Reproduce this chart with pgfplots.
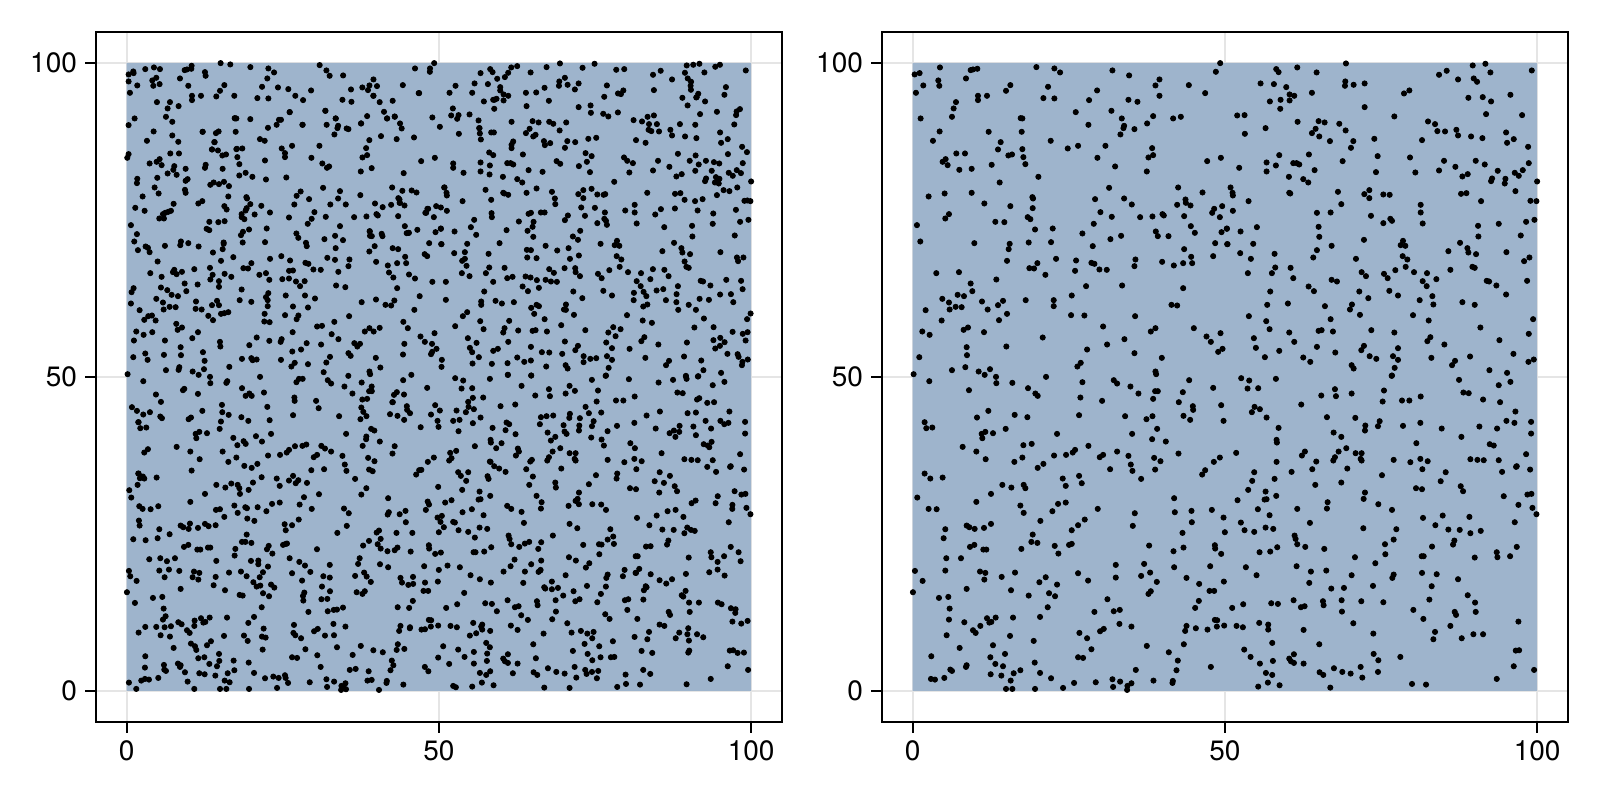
\documentclass[border=0pt]{standalone}
\usepackage{pgfplots}
\usepackage{pgfplotstable}
\pgfplotsset{compat=1.18}
\usepackage{fontspec}
\setmainfont{TeX Gyre Heros}
\definecolor{regionblue}{RGB}{158,180,204}
% Points are positions read from 3x zoom crops of the reference, one table per crop.
% Each crop has one linear calibration to data units, fixed from the 0 and 100 gridlines.
% Tables E-H: points in both panels. Tables A-D: points in the left panel only.
\pgfplotstableread{
px py
134 164
149 160
210 143
302 151
309 149
322 147
499 142
553 146
570 158
727 152
777 167
1037 156
1050 130
205 182
288 176
868 179
856 197
956 196
138 219
160 197
208 198
421 196
408 213
534 201
681 212
1005 220
324 228
324 241
351 228
520 235
553 236
657 241
775 240
802 246
868 228
258 247
251 266
246 291
152 296
452 295
457 296
617 277
724 273
755 296
849 289
909 296
932 291
209 335
356 336
455 336
655 315
762 318
760 325
793 328
831 311
751 344
189 363
392 367
542 363
384 389
457 388
593 386
624 378
706 378
846 385
259 401
285 401
415 407
426 404
460 412
682 414
835 413
849 406
1011 424
1052 414
227 418
218 426
233 436
268 450
305 447
365 435
466 433
735 440
830 455
505 471
389 488
717 504
924 503
176 530
224 521
305 519
487 532
489 536
675 538
762 536
997 518
946 539
947 549
921 555
961 557
785 554
343 551
421 559
488 565
1056 559
1032 567
1026 579
237 583
226 596
473 592
481 598
691 577
725 591
810 592
847 590
877 583
881 587
942 589
1049 592
141 616
376 606
403 607
495 629
548 626
671 612
962 619
637 641
857 635
974 639
1054 637
1070 627
151 665
313 670
419 672
476 668
543 667
721 658
753 648
863 649
895 649
1035 670
1072 673
416 688
668 679
942 688
411 723
558 717
618 722
664 729
673 732
796 719
793 739
876 726
911 737
939 730
963 711
966 730
1029 709
502 730
199 760
267 757
478 745
492 746
615 753
688 749
710 750
526 765
379 779
302 791
307 814
648 799
756 797
939 805
263 825
282 829
217 837
237 848
336 845
399 843
467 841
551 841
605 827
384 856
551 859
904 855
921 857
257 861
275 862
239 869
167 871
353 869
411 882
603 886
643 887
795 889
215 902
387 901
294 923
281 930
157 935
179 945
342 937
699 920
856 925
842 935
971 925
1009 950
1051 940
518 953
763 958
1022 966
290 982
409 980
711 974
291 1006
651 989
793 1000
1044 996
1057 987
148 1012
875 1014
632 1029
622 1040
286 1042
246 1051
326 1055
360 1048
344 1065
856 1055
858 1063
131 1063
}\cropE
\pgfplotstableread{
px py
168 148
175 157
231 143
289 158
377 131
757 137
795 132
810 158
934 152
656 165
679 153
713 179
760 176
770 186
121 191
161 193
198 202
375 185
374 198
400 195
433 191
275 219
208 224
222 228
551 221
567 212
870 225
149 245
181 240
208 242
180 267
433 262
744 234
787 232
812 245
51 287
73 286
232 306
295 304
313 308
357 312
376 332
522 290
623 305
644 313
797 283
905 286
136 325
74 342
286 327
275 340
297 350
329 364
399 364
462 357
651 334
674 335
708 330
713 347
752 350
786 355
857 338
880 358
860 369
605 361
392 384
923 381
177 406
266 404
472 409
569 413
139 428
167 437
219 430
229 430
237 434
367 424
671 423
705 441
766 423
793 434
925 430
57 444
139 455
283 451
467 457
585 458
656 452
832 453
883 459
907 451
895 468
206 471
249 478
264 488
726 470
742 463
812 484
815 476
855 477
853 491
950 485
31 503
37 519
38 527
207 519
210 521
353 516
432 523
447 511
447 535
489 524
508 525
722 522
738 520
885 514
85 544
363 553
601 555
782 544
930 543
948 544
38 573
290 579
331 578
601 578
452 588
917 606
942 600
489 610
510 597
515 603
607 611
773 618
835 612
295 621
110 622
20 626
61 635
431 660
297 651
774 650
901 647
21 673
99 672
334 678
548 663
541 676
555 678
719 669
741 685
744 698
767 703
858 697
684 694
290 691
60 700
163 702
279 713
92 717
407 717
547 709
561 719
927 713
911 724
165 743
211 744
556 741
756 741
763 744
690 750
83 760
155 760
424 757
437 769
525 751
581 757
620 760
491 762
502 775
219 775
334 780
350 785
648 778
607 784
799 783
806 785
920 783
265 800
281 814
150 815
417 815
507 813
619 799
828 797
533 827
636 829
857 824
444 835
598 841
726 847
141 855
203 851
314 859
395 854
389 869
639 854
763 855
86 889
419 885
578 886
138 904
331 898
625 902
938 898
148 928
207 938
295 933
304 931
338 935
453 931
522 938
780 923
925 942
630 952
621 964
101 955
222 966
672 974
837 961
107 984
177 993
290 981
431 978
423 991
533 985
345 998
879 1002
134 1012
249 1013
270 1026
448 1009
468 1017
518 1009
533 1020
633 1014
749 1010
924 1026
940 1019
704 1023
695 1036
394 1036
400 1046
523 1044
807 1051
860 1059
515 1067
}\cropF
\pgfplotstableread{
px py
178 34
297 61
378 21
379 40
427 39
474 55
528 21
496 71
503 78
637 37
631 83
731 31
741 41
781 50
805 71
696 93
855 64
863 64
849 87
938 67
957 31
1029 54
926 97
968 109
969 120
1053 106
355 123
321 143
434 135
472 142
627 136
765 139
829 148
847 139
940 138
960 150
1060 153
164 157
169 175
187 173
407 177
861 177
335 192
346 186
337 205
369 190
561 192
786 192
846 208
887 215
278 231
460 226
485 222
655 228
319 245
615 240
608 248
741 245
925 251
552 257
588 255
699 255
689 262
775 258
852 264
457 263
347 268
1049 263
433 276
871 274
1031 276
520 282
782 284
503 294
720 298
787 303
855 299
1005 301
996 314
164 311
181 326
218 323
578 326
627 318
635 340
813 327
397 345
424 353
461 345
466 355
587 348
363 372
142 383
912 385
319 396
587 398
564 402
451 407
176 417
200 418
683 417
547 424
461 429
794 430
914 427
964 423
1025 420
1060 443
511 453
644 449
965 457
363 462
290 467
298 472
314 477
342 474
226 478
624 466
605 481
788 468
1064 487
937 489
221 505
488 494
484 516
502 519
300 531
313 525
554 528
597 525
605 522
837 527
940 533
1034 526
1035 536
340 539
349 539
454 537
910 544
565 551
1053 552
229 565
273 565
135 603
226 602
330 605
346 609
435 608
624 610
737 585
822 582
912 592
1020 589
840 608
813 618
395 621
527 622
737 623
949 624
158 633
343 629
508 637
654 632
860 636
1061 635
561 644
987 642
129 667
290 657
423 661
476 677
537 670
555 679
842 664
835 672
1018 663
1032 663
207 684
235 681
712 688
986 693
239 716
533 712
673 726
731 724
749 720
975 714
237 749
283 757
351 745
377 743
429 743
358 758
364 756
510 741
1034 750
1041 751
748 762
331 768
784 770
949 768
977 775
1062 767
1040 770
1012 779
309 781
317 789
690 784
701 777
628 789
945 783
230 796
420 798
651 805
491 813
269 834
369 826
830 828
941 823
664 838
184 859
361 862
405 852
624 862
639 864
896 847
923 872
1022 891
376 882
399 889
290 886
288 891
494 878
241 899
246 903
451 901
797 900
919 901
362 913
394 917
431 910
510 909
183 927
195 929
223 924
543 925
422 932
612 939
677 937
727 928
750 935
850 932
908 933
907 939
784 940
772 948
408 957
427 957
495 957
579 954
729 951
771 960
}\cropG
\pgfplotstableread{
px py
63 25
87 32
167 27
514 18
716 30
870 36
835 46
82 56
114 55
344 58
303 77
347 79
394 71
491 62
729 68
745 70
601 80
545 92
567 92
487 95
788 89
839 97
243 104
103 111
119 118
95 127
885 125
139 143
320 142
405 144
478 154
473 169
600 159
858 153
882 159
932 156
175 174
435 167
434 182
548 168
664 176
777 170
830 176
340 188
932 191
363 201
723 201
169 210
170 218
588 220
808 223
820 227
378 235
254 245
245 257
355 245
48 249
406 250
424 250
917 253
344 262
339 272
421 267
424 272
520 270
600 267
622 274
570 277
750 268
771 270
790 271
835 271
169 276
288 275
276 298
381 296
606 298
889 289
887 291
929 299
845 306
102 307
214 306
676 307
485 316
163 327
96 333
661 334
363 338
285 345
721 349
587 355
605 358
84 360
136 365
728 364
434 368
921 374
933 372
168 378
850 379
430 387
52 391
133 389
139 388
322 397
474 403
894 405
320 416
231 417
113 418
515 420
936 414
948 433
148 436
667 437
608 444
747 441
62 458
269 459
883 457
645 466
429 475
136 473
159 477
73 481
102 486
684 479
718 480
528 478
781 483
750 490
223 497
226 507
231 523
255 531
312 537
494 523
520 509
702 512
698 524
635 530
171 532
150 545
118 547
829 547
831 562
889 531
495 553
404 562
604 559
610 559
763 563
869 559
465 580
77 592
229 589
272 605
318 602
605 609
649 613
109 616
394 616
520 614
516 624
713 628
267 639
458 648
634 649
333 656
371 654
742 676
627 689
220 691
308 694
310 706
364 691
423 694
489 697
764 698
69 703
153 700
173 702
36 714
242 712
253 709
365 725
579 720
766 726
703 726
707 735
609 747
117 759
399 760
894 755
49 768
68 772
144 764
144 779
250 780
690 768
644 786
459 791
759 793
788 793
724 805
639 808
156 819
297 823
72 839
460 852
221 853
886 842
896 841
91 861
540 861
207 866
212 874
221 879
158 873
119 881
250 881
474 871
341 895
421 891
880 889
941 900
298 907
309 915
366 906
391 911
473 906
137 909
156 915
426 923
829 927
114 950
143 938
178 946
575 942
617 944
330 953
}\cropH
\pgfplotstableread{
px py
422 130
451 134
719 136
1005 146
1050 146
196 148
240 148
335 138
160 155
375 157
377 168
749 168
229 174
146 185
239 193
325 198
562 176
594 203
625 208
813 209
847 203
864 211
891 199
409 230
463 228
646 228
1016 220
231 247
296 259
880 228
899 247
938 243
277 306
146 316
465 296
511 298
564 324
590 315
597 300
603 300
629 277
668 315
736 273
740 315
767 296
800 326
843 311
912 276
921 296
944 290
960 311
965 326
1057 293
368 336
408 340
416 335
277 347
295 366
403 367
540 358
868 361
903 349
950 358
1002 353
396 389
414 392
471 387
487 386
146 403
142 414
555 422
615 400
615 412
209 431
283 439
375 444
428 447
727 431
741 444
875 445
263 461
290 465
232 474
172 477
171 490
317 483
323 478
478 467
497 459
558 479
619 473
971 460
391 495
417 493
432 486
447 499
224 503
315 510
445 530
650 528
662 515
780 514
841 526
967 513
995 512
959 549
955 535
367 544
281 552
166 564
194 573
273 573
265 576
256 579
252 596
440 569
511 553
544 558
497 572
485 583
524 584
570 578
643 554
627 593
751 554
885 551
908 562
1042 567
1036 579
434 604
380 627
388 631
695 597
780 619
869 634
870 648
905 642
986 639
980 640
1012 630
171 643
489 636
483 646
655 654
789 661
431 668
303 665
301 676
356 680
255 678
197 680
204 684
174 691
209 697
678 669
767 685
884 679
938 685
868 695
1034 703
399 698
604 709
460 712
742 714
765 720
233 725
343 748
390 744
283 750
290 763
306 756
245 771
398 765
434 762
454 771
417 784
558 760
639 752
775 756
927 758
940 773
987 764
1005 776
568 780
607 778
627 776
648 785
674 784
353 794
417 801
1057 786
243 803
161 805
155 817
262 811
485 809
796 802
565 820
558 832
153 851
417 856
514 846
639 860
675 827
705 836
845 847
888 839
943 842
1019 829
347 867
433 880
445 877
554 882
684 863
1003 870
205 889
216 887
193 900
385 888
553 905
569 907
650 898
763 906
970 906
289 912
217 937
726 918
881 935
899 924
638 937
755 943
162 962
255 962
337 955
568 963
605 958
602 966
420 966
508 976
680 970
823 970
840 972
832 980
973 972
1056 972
637 995
369 997
196 1001
252 1005
969 1004
1053 1003
750 1011
812 1008
203 1020
374 1023
486 1017
514 1015
518 1021
530 1019
603 1020
739 1028
684 1033
296 1050
448 1041
901 1043
731 1057
805 1068
994 1065
}\cropA
\pgfplotstableread{
px py
152 160
262 139
350 142
458 144
494 132
559 150
583 148
790 135
856 141
870 135
765 159
77 198
59 219
127 219
202 177
225 172
235 159
211 212
319 218
344 204
405 174
435 209
531 197
523 231
573 223
672 211
782 198
783 210
888 202
805 222
799 233
190 240
200 237
357 243
290 259
482 257
483 279
520 282
564 278
773 257
861 276
920 275
930 268
69 266
82 297
119 284
146 302
148 325
30 321
150 341
153 359
184 338
192 338
358 306
409 308
317 345
345 376
361 370
436 367
499 354
611 301
653 291
672 287
681 313
656 330
750 313
796 315
913 314
647 369
250 365
245 375
245 385
178 398
467 400
391 432
447 439
471 426
592 423
609 430
744 402
797 407
828 423
852 427
868 431
894 403
951 397
70 431
101 459
179 464
338 456
796 453
933 460
858 472
855 488
553 486
43 503
167 510
235 525
290 519
320 506
485 507
526 523
652 519
881 511
922 503
861 526
184 540
375 536
764 540
818 538
952 542
33 563
185 580
186 592
296 582
333 578
414 587
405 601
454 563
495 564
525 578
586 572
693 568
676 584
735 566
803 572
850 581
918 570
133 600
267 605
311 606
293 633
531 615
703 622
230 631
451 633
429 650
139 645
512 672
209 670
291 690
105 697
97 723
382 692
416 685
447 707
320 715
110 738
764 725
921 713
119 769
248 771
287 770
302 773
321 781
381 786
358 748
372 759
404 745
436 745
669 748
716 769
889 780
48 786
190 786
327 804
744 799
680 812
700 808
612 819
641 816
740 823
903 823
938 808
48 840
154 845
197 843
252 847
304 864
320 855
313 882
408 870
708 841
809 837
837 840
910 847
640 860
745 870
798 870
112 877
962 881
238 903
666 909
822 896
76 919
224 925
265 932
394 916
550 922
572 928
557 949
851 922
908 936
953 937
140 969
127 997
204 987
405 965
529 968
771 968
599 987
871 954
884 967
947 962
870 978
856 986
336 997
397 1002
36 1020
35 1041
128 1031
186 1032
233 1030
303 1022
349 1040
461 1027
499 1015
814 1022
923 1003
926 1011
936 1036
234 1065
304 1067
768 1068
804 1070
}\cropB
\pgfplotstableread{
px py
313 57
228 74
243 96
354 72
442 34
497 78
552 68
657 27
668 27
644 93
716 115
845 38
875 50
847 89
942 75
937 97
972 74
156 112
171 123
190 134
210 127
241 140
246 145
326 148
426 105
427 127
505 153
562 111
569 151
844 113
850 126
930 133
990 130
1053 134
175 157
423 155
883 182
859 200
1022 172
460 204
528 199
491 214
546 215
645 229
679 224
724 228
735 236
848 228
944 229
193 248
204 238
428 245
493 288
694 301
335 302
878 304
1024 300
175 311
189 320
180 325
173 345
148 361
545 322
519 338
506 360
454 341
627 332
655 331
681 339
480 372
672 382
717 373
844 374
859 355
178 409
235 409
408 420
420 418
496 412
501 415
533 412
659 404
792 416
923 434
959 433
1043 395
1047 404
433 441
502 446
177 452
179 467
330 461
386 469
407 466
614 463
772 489
890 488
897 482
997 489
160 508
197 511
269 493
486 516
867 513
902 507
893 523
902 536
621 521
384 533
391 533
561 538
464 557
711 538
944 541
992 545
208 568
261 574
409 573
513 573
535 572
535 583
564 590
629 565
658 576
675 587
839 565
900 583
267 599
298 603
483 605
549 607
691 606
151 619
254 622
338 622
500 619
730 619
860 620
999 621
1035 638
966 638
985 645
530 650
541 647
583 653
401 646
726 650
479 675
673 668
669 678
750 664
830 667
670 692
742 687
165 699
771 719
789 713
953 712
257 739
344 752
305 763
505 759
642 765
196 771
229 771
254 772
273 769
551 776
990 772
1035 778
176 788
270 800
492 797
546 800
557 803
646 796
735 797
762 796
393 814
333 821
345 829
349 840
771 832
548 839
950 840
973 837
355 865
712 856
818 855
880 841
461 872
418 873
195 893
252 885
294 881
722 891
827 897
940 886
1045 904
147 938
184 932
315 907
323 935
358 910
449 937
580 920
596 924
615 916
617 924
866 904
875 930
970 944
169 957
343 957
798 958
897 960
790 952
}\cropC
\pgfplotstableread{
px py
234 15
304 17
486 30
597 28
686 38
768 20
770 27
805 19
275 48
419 48
435 63
129 84
160 83
115 96
30 122
212 109
467 111
477 130
514 128
80 122
832 99
808 85
650 137
690 125
773 130
798 128
70 153
89 150
129 160
26 171
230 158
238 163
227 181
257 193
350 139
370 137
330 163
401 166
404 185
410 192
420 132
450 145
533 184
719 190
732 182
749 168
748 186
798 196
827 153
883 163
86 184
215 220
199 235
135 229
264 236
79 243
65 265
58 272
306 270
363 212
484 203
515 209
522 227
615 235
695 250
838 232
845 216
180 275
193 289
208 296
832 291
85 307
93 318
173 319
309 320
25 351
378 353
477 343
562 311
560 326
702 339
720 318
688 368
914 364
320 378
437 393
46 398
785 400
797 392
857 400
232 408
275 426
416 408
447 403
514 404
98 427
713 424
737 420
907 417
36 438
32 456
70 456
42 472
419 462
772 473
783 480
135 503
369 497
285 521
298 516
334 517
460 525
515 524
550 500
552 522
662 529
33 548
137 547
926 547
254 569
304 583
334 572
438 572
468 593
53 587
27 600
221 605
326 606
332 600
863 576
932 574
838 607
863 599
884 617
584 600
579 619
628 597
617 609
768 612
689 631
150 628
183 638
103 669
366 635
343 652
366 658
431 664
528 650
513 672
650 652
642 661
709 641
767 663
760 680
400 677
449 688
585 691
595 688
807 698
864 698
875 703
201 724
903 715
917 718
916 729
274 736
294 750
367 748
526 733
539 747
154 770
181 783
243 767
689 764
934 761
953 753
748 788
775 775
777 812
820 802
139 790
120 797
341 791
425 788
453 783
491 786
487 805
614 801
40 829
180 832
132 846
172 851
25 863
58 882
318 865
429 843
464 822
508 829
549 814
512 862
543 862
635 843
667 849
778 842
775 848
923 849
942 848
249 910
181 904
466 900
470 912
505 903
501 925
587 914
640 900
661 912
70 948
78 952
419 954
562 951
770 943
}\cropD
\pgfplotsset{panel/.style={
  anchor=south west, scale only axis, width=342.85pt, height=344.85pt,
  xmin=-4.9, xmax=104.9, ymin=-4.9, ymax=104.9,
  xtick={0,50,100}, ytick={0,50,100}, tick pos=left, tick align=outside,
  major tick length=5.5pt, tick style={black, line width=1pt},
  axis line style={black, line width=1pt},
  grid=major, grid style={black!10, line width=1pt},
  tick label style={font=\fontsize{14}{16}\selectfont},
  /pgf/number format/assume math mode=true,
  xticklabel style={yshift=-0.5pt}, yticklabel style={xshift=-0.5pt},
}, dots/.style={only marks, mark=*, mark size=1.3pt, mark options={black, draw=none, fill=black}}}
\newcommand{\sharedpoints}{%
\addplot[dots] table[x expr=(\thisrow{px}-128)/18.72, y expr=100-(\thisrow{py}-129)/18.84] {\cropE};
\addplot[dots] table[x expr=50+(\thisrow{px}-14)/18.72, y expr=100-(\thisrow{py}-129)/18.84] {\cropF};
\addplot[dots] table[x expr=(\thisrow{px}-128)/18.72, y expr=(963-\thisrow{py})/18.84] {\cropG};
\addplot[dots] table[x expr=50+(\thisrow{px}-14)/18.72, y expr=(963-\thisrow{py})/18.84] {\cropH};
}
\begin{document}
\begin{tikzpicture}
\useasboundingbox (0,0) rectangle (800pt,400pt);
\begin{axis}[panel, at={(48pt,39.15pt)}]
\addplot[fill=regionblue, draw=none] coordinates {(0,0) (100,0) (100,100) (0,100)} \closedcycle;
\sharedpoints
\addplot[dots] table[x expr=(\thisrow{px}-140)/18.73, y expr=100-(\thisrow{py}-129)/18.84] {\cropA};
\addplot[dots] table[x expr=50+(\thisrow{px}-27)/18.73, y expr=100-(\thisrow{py}-129)/18.84] {\cropB};
\addplot[dots] table[x expr=(\thisrow{px}-140)/18.73, y expr=(963-\thisrow{py})/18.84] {\cropC};
\addplot[dots] table[x expr=50+(\thisrow{px}-27)/18.73, y expr=(963-\thisrow{py})/18.84] {\cropD};
\end{axis}
\begin{axis}[panel, at={(441pt,39.15pt)}]
\addplot[fill=regionblue, draw=none] coordinates {(0,0) (100,0) (100,100) (0,100)} \closedcycle;
\sharedpoints
\end{axis}
\end{tikzpicture}
\end{document}
